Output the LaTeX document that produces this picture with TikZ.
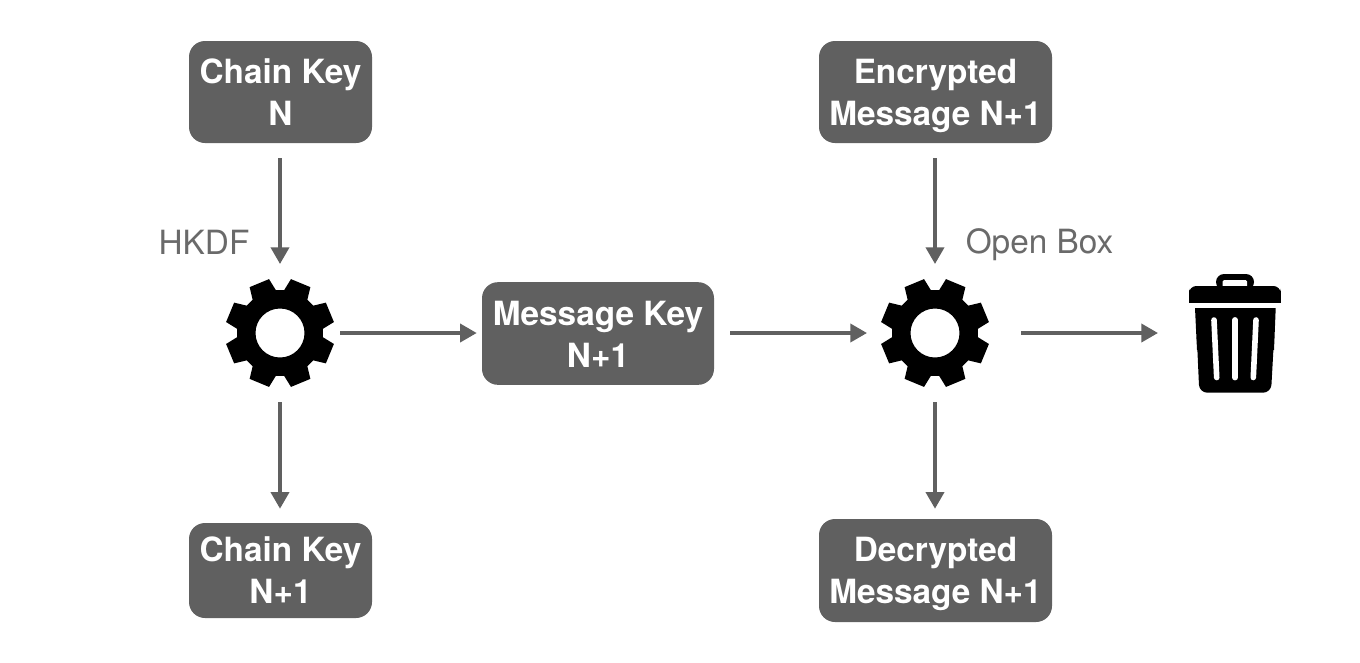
\documentclass[tikz,border=0pt]{standalone}
\usepackage{fontspec}
\setmainfont{TeX Gyre Heros}
\usetikzlibrary{arrows.meta,calc}
\definecolor{boxgray}{HTML}{606060}
\definecolor{labelgray}{HTML}{6A6A6A}
\tikzset{
  x=0.75pt,y=-0.75pt,
  keybox/.style={fill=boxgray,rounded corners=12pt,text=white,align=center,inner sep=0pt,
    font=\fontsize{25}{31.5}\selectfont\bfseries,minimum width=#1*0.75pt},
  flow/.style={draw=boxgray,line width=2.8pt,-{Triangle[length=12.5pt,width=13.5pt]}},
  from/.style={shorten <=#1*0.75pt},
  to/.style={shorten >=#1*0.75pt},
  lab/.style={text=labelgray,font=\fontsize{25}{30}\selectfont,inner sep=0pt},
  anchorpt/.style={inner sep=0pt,minimum size=0pt,outer sep=0pt},
}
\newcommand{\gearshape}[2]{%
  \fill[black,even odd rule]
   \foreach \k in {0,...,7}{
     \ifnum\k=0 ($(#1,#2)+(22.5+45*\k-17:43*0.75pt)$)\else -- ($(#1,#2)+(22.5+45*\k-17:43*0.75pt)$)\fi
     -- ($(#1,#2)+(22.5+45*\k-11:55*0.75pt)$)
     -- ($(#1,#2)+(22.5+45*\k+11:55*0.75pt)$)
     -- ($(#1,#2)+(22.5+45*\k+17:43*0.75pt)$)
   } -- cycle
   (#1,#2) circle[radius=24.5*0.75pt];
}
\begin{document}
\begin{tikzpicture}
\useasboundingbox (0,0) rectangle (1360,662);
\fill[white] (0,0) rectangle (1360,662);

% boxes
\node[keybox=183,minimum height=76.5pt] (ck0) at (280.5,92) {Chain Key\\N};
\node[keybox=233,minimum height=76.5pt] (enc) at (935.5,92) {\rule{0pt}{23.5pt}Encrypted\\Message N+1};
\node[keybox=232,minimum height=77pt] (mk) at (598,333.5) {\rule{0pt}{19.5pt}Message Key\\N+1};
\node[keybox=183,minimum height=71.25pt] (ck1) at (280.5,570.5) {Chain Key\\N+1};
\node[keybox=233,minimum height=77.25pt] (dec) at (935.5,570.5) {\rule{0pt}{23.5pt}Decrypted\\Message N+1};

% gears
\gearshape{280}{333}
\gearshape{935}{333}
\node[anchorpt] (g1) at (280,333) {};
\node[anchorpt] (g2) at (935,333) {};

% trash can
\node[anchorpt] (bin) at (1235,333) {};
\fill[black,rounded corners=6pt] (1216,290) -- (1216,274) -- (1254,274) -- (1254,290) -- cycle;
\fill[white,rounded corners=1pt] (1222.7,280) rectangle (1247,290);
\fill[black,rounded corners=5.5pt] (1189,296) -- (1189,286) -- (1280.7,286) -- (1280.7,296) -- cycle;
\fill[black] (1189,291) rectangle (1280.7,303.3);
\fill[black] (1195,308) -- (1275.7,308) -- (1274,350) -- (1197,350) -- cycle;
\fill[black,rounded corners=6pt] (1196.5,330) -- (1274.5,330) -- (1271,392.7) -- (1199.3,392.7) -- cycle;
\draw[white,line width=4.2pt,line cap=round] (1214,320) -- (1216.7,377.5);
\draw[white,line width=4.4pt,line cap=round] (1235,320) -- (1235,377.5);
\draw[white,line width=4.2pt,line cap=round] (1256,320) -- (1253.3,377.5);

% labels
\node[lab] (hkdf) at (204,242) {HKDF};
\node[lab] (open) at (1039.5,244.5) {Open Box};

% connectors
\draw[flow,from=15,to=69] (g1 |- ck0.south) -- (g1);
\draw[flow,from=15,to=69] (g2 |- enc.south) -- (g2);
\draw[flow,from=69,to=14] (g1) -- (g1 |- ck1.north);
\draw[flow,from=69,to=10] (g2) -- (g2 |- dec.north);
\draw[flow,from=60,to=5] (g1) -- (g1 -| mk.west);
\draw[flow,from=16,to=68] (g2 -| mk.east) -- (g2);
\draw[flow,from=86,to=77] (g2) -- (bin);
\end{tikzpicture}
\end{document}
